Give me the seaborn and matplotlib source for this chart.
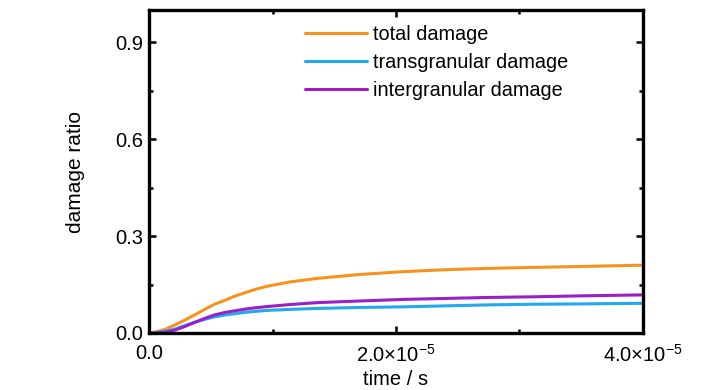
import numpy as np
import pandas as pd
import seaborn as sns
import matplotlib.pyplot as plt
from matplotlib.ticker import FixedLocator

# time in units of 1e-5 s
time_1e5 = [0.0, 0.05, 0.13, 0.21, 0.29, 0.37, 0.45, 0.53, 0.62, 0.70, 0.78,
            0.86, 0.96, 1.14, 1.36, 1.70, 2.06, 2.40, 2.74, 3.10, 3.50, 4.0]
total_damage = [0.0, 0.003, 0.011, 0.025, 0.040, 0.056, 0.073, 0.089, 0.102,
                0.115, 0.125, 0.135, 0.145, 0.158, 0.169, 0.181, 0.190, 0.196,
                0.200, 0.203, 0.206, 0.210]
trans_damage = [0.0, 0.001, 0.005, 0.012, 0.023, 0.033, 0.042, 0.050, 0.056,
                0.060, 0.064, 0.067, 0.070, 0.073, 0.076, 0.079, 0.081, 0.084,
                0.087, 0.089, 0.090, 0.092]
inter_damage = [0.0, 0.000, 0.002, 0.009, 0.020, 0.033, 0.045, 0.056, 0.064,
                0.069, 0.074, 0.078, 0.082, 0.088, 0.094, 0.099, 0.104, 0.107,
                0.110, 0.112, 0.115, 0.118]
series_names = ["total damage", "transgranular damage", "intergranular damage"]
series_colors = ["#F7921E", "#22A9EC", "#9A1FC8"]

t = np.array(time_1e5) * 1e-5
df = pd.concat([
    pd.DataFrame({"time": t, "ratio": v, "series": name})
    for name, v in zip(series_names, [total_damage, trans_damage, inter_damage])
])

sns.set_style("ticks")
plt.rcParams["font.family"] = ["Liberation Sans", "DejaVu Sans"]
plt.rcParams["mathtext.fontset"] = "custom"
plt.rcParams["mathtext.rm"] = "Liberation Sans"
plt.rcParams["mathtext.it"] = "Liberation Sans"
for key in ["text.color", "axes.labelcolor", "xtick.color", "ytick.color"]:
    plt.rcParams[key] = "black"

fig = plt.figure(figsize=(7.28, 3.9), dpi=100)
ax = fig.add_axes([0.2047, 0.1462, 0.6785, 0.8278])

sns.lineplot(data=df, x="time", y="ratio", hue="series", hue_order=series_names,
             palette=series_colors, linewidth=2.2, ax=ax, sort=False)

ax.set_xlim(0, 4e-5)
ax.set_ylim(0, 1.0)
ax.xaxis.set_major_locator(FixedLocator([0, 2e-5, 4e-5]))
ax.set_xticklabels(["0.0", r"2.0$\times$10$^{\mathregular{-5}}$",
                    r"4.0$\times$10$^{\mathregular{-5}}$"])
ax.xaxis.set_minor_locator(FixedLocator([1e-5, 3e-5]))
ax.yaxis.set_major_locator(FixedLocator([0, 0.3, 0.6, 0.9]))
ax.set_yticklabels(["0.0", "0.3", "0.6", "0.9"])
ax.yaxis.set_minor_locator(FixedLocator([0.15, 0.45, 0.75]))

ax.tick_params(which="both", direction="in", top=True, right=True, width=1.8,
               labelsize=14.5, color="black")
ax.tick_params(which="major", length=5)
ax.tick_params(axis="y", which="major", pad=4)
ax.tick_params(axis="x", which="major", pad=8)
ax.tick_params(which="minor", length=3)
for s in ax.spines.values():
    s.set_linewidth(2.4)
    s.set_color("black")

ax.set_xlabel("time / s", fontsize=14.5, labelpad=3)
ax.set_ylabel("damage ratio", fontsize=15, labelpad=22)

ax.legend(loc="upper left", bbox_to_anchor=((305 - 149) / 494, 0.953),
          frameon=False, fontsize=14.3, handlelength=3.1, handletextpad=0.3,
          labelspacing=0.45, borderpad=0, borderaxespad=0)

fig.savefig("out.png", dpi=100)
